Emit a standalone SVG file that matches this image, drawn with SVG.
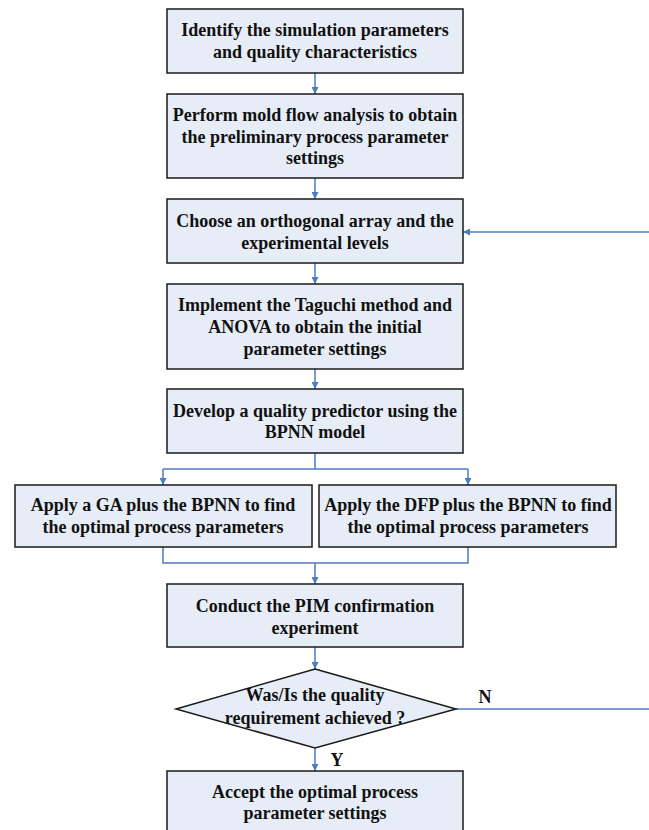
<svg xmlns="http://www.w3.org/2000/svg" width="649" height="830" viewBox="0 0 649 830">
<style>
.box{fill:#E7EDF6;stroke:#1a1a1a;stroke-width:1.5}
.t{font-family:'Liberation Serif','Times New Roman',Times,serif;font-weight:700;font-size:18px;fill:#111;text-anchor:middle}
.c{fill:none;stroke:#4A7CC4;stroke-width:1.5}
</style>
<defs>
<marker id="ah" viewBox="0 0 10 10" refX="10" refY="5" markerWidth="7" markerHeight="7" markerUnits="userSpaceOnUse" orient="auto">
<path d="M0,0 L10,5 L0,10 z" fill="#4A7CC4"/>
</marker>
</defs>
<rect width="649" height="830" fill="#fff"/>
<g id="connectors">
<line class="c" x1="315" y1="73" x2="315" y2="94" marker-end="url(#ah)"/>
<line class="c" x1="315" y1="178" x2="315" y2="199" marker-end="url(#ah)"/>
<line class="c" x1="315" y1="263" x2="315" y2="284" marker-end="url(#ah)"/>
<line class="c" x1="315" y1="369" x2="315" y2="389" marker-end="url(#ah)"/>
<polyline class="c" points="315,453 315,469"/>
<polyline class="c" points="163,469 468,469"/>
<line class="c" x1="163" y1="469" x2="163" y2="485" marker-end="url(#ah)"/>
<line class="c" x1="468" y1="469" x2="468" y2="485" marker-end="url(#ah)"/>
<polyline class="c" points="163,547 163,563 468,563 468,547"/>
<line class="c" x1="315" y1="563" x2="315" y2="584" marker-end="url(#ah)"/>
<line class="c" x1="315" y1="647" x2="315" y2="669" marker-end="url(#ah)"/>
<line class="c" x1="315" y1="748" x2="315" y2="771" marker-end="url(#ah)"/>
<line class="c" x1="456" y1="709" x2="649" y2="709"/>
<line class="c" x1="649" y1="232" x2="463" y2="232" marker-end="url(#ah)"/>
<text class="t" font-family="Liberation Serif" x="485" y="703">N</text>
<text class="t" font-family="Liberation Serif" x="337" y="766">Y</text>
</g>
<g id="n1">
<rect class="box" x="167" y="9" width="296" height="64"/>
<text class="t" font-family="Liberation Serif" x="315" y="36">Identify the simulation parameters</text>
<text class="t" font-family="Liberation Serif" x="315" y="58">and quality characteristics</text>
</g>
<g id="n2">
<rect class="box" x="167" y="94" width="296" height="84"/>
<text class="t" font-family="Liberation Serif" x="315" y="121">Perform mold flow analysis to obtain</text>
<text class="t" font-family="Liberation Serif" x="315" y="143">the preliminary process parameter</text>
<text class="t" font-family="Liberation Serif" x="315" y="164">settings</text>
</g>
<g id="n3">
<rect class="box" x="167" y="199" width="296" height="64"/>
<text class="t" font-family="Liberation Serif" x="315" y="227">Choose an orthogonal array and the</text>
<text class="t" font-family="Liberation Serif" x="315" y="249">experimental levels</text>
</g>
<g id="n4">
<rect class="box" x="167" y="284" width="296" height="85"/>
<text class="t" font-family="Liberation Serif" x="315" y="311">Implement the Taguchi method and</text>
<text class="t" font-family="Liberation Serif" x="315" y="333">ANOVA to obtain the initial</text>
<text class="t" font-family="Liberation Serif" x="315" y="355">parameter settings</text>
</g>
<g id="n5">
<rect class="box" x="167" y="389" width="296" height="64"/>
<text class="t" font-family="Liberation Serif" x="315" y="417">Develop a quality predictor using the</text>
<text class="t" font-family="Liberation Serif" x="315" y="438">BPNN model</text>
</g>
<g id="n6">
<rect class="box" x="15" y="485" width="297" height="62"/>
<text class="t" font-family="Liberation Serif" x="163" y="511">Apply a GA plus the BPNN to find</text>
<text class="t" font-family="Liberation Serif" x="163" y="533">the optimal process parameters</text>
</g>
<g id="n7">
<rect class="box" x="319" y="485" width="297" height="62"/>
<text class="t" font-family="Liberation Serif" x="468" y="511">Apply the DFP plus the BPNN to find</text>
<text class="t" font-family="Liberation Serif" x="468" y="533">the optimal process parameters</text>
</g>
<g id="n8">
<rect class="box" x="167" y="584" width="296" height="63"/>
<text class="t" font-family="Liberation Serif" x="315" y="612">Conduct the PIM confirmation</text>
<text class="t" font-family="Liberation Serif" x="315" y="634">experiment</text>
</g>
<g id="n9">
<polygon class="box" points="315,669 456,709 315,748 176,709"/>
<text class="t" font-family="Liberation Serif" x="315" y="701">Was/Is the quality</text>
<text class="t" font-family="Liberation Serif" x="315" y="724">requirement achieved ?</text>
</g>
<g id="n10">
<rect class="box" x="167" y="771" width="296" height="70"/>
<text class="t" font-family="Liberation Serif" x="315" y="798">Accept the optimal process</text>
<text class="t" font-family="Liberation Serif" x="315" y="819">parameter settings</text>
</g>
</svg>
